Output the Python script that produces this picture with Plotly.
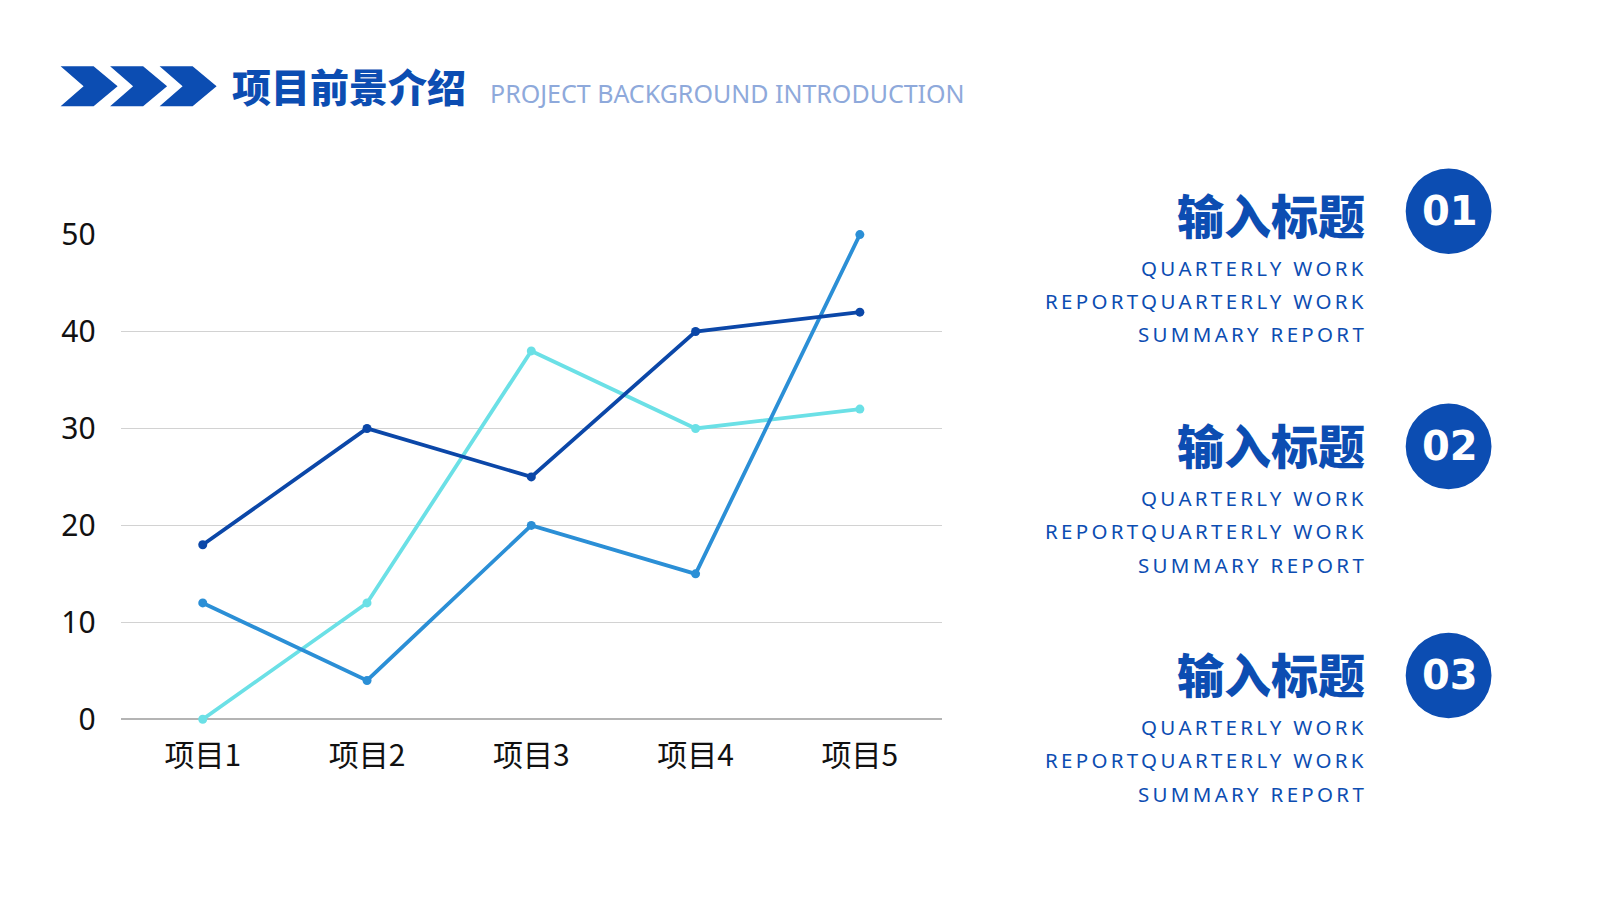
import plotly.graph_objects as go

# data
categories = ["项目1", "项目2", "项目3", "项目4", "项目5"]
series_dark = [18, 30, 25, 40, 42]
series_mid = [12, 4, 20, 15, 50]
series_cyan = [0, 12, 38, 30, 32]
y_ticks = [0, 10, 20, 30, 40, 50]

title_cn = "项目前景介绍"
title_en = "PROJECT BACKGROUND INTRODUCTION"
item_title = "输入标题"
item_numbers = ["01", "02", "03"]
item_lines = ["QUARTERLY WORK", "REPORTQUARTERLY WORK", "SUMMARY REPORT"]

W, H = 1600, 900
BLUE = "#0C4DB2"


def px(x):
    return x / W


def py(y):
    return 1 - y / H


fig = go.Figure()

for vals, color in [(series_cyan, "#6BE0E6"), (series_mid, "#2B8FD6"), (series_dark, "#0B47A8")]:
    fig.add_trace(go.Scatter(
        x=categories, y=vals, mode="lines+markers",
        line=dict(color=color, width=3.8),
        marker=dict(color=color, size=9),
        cliponaxis=False, showlegend=False, hoverinfo="skip",
    ))

fig.update_xaxes(
    domain=[px(112.6), px(934)], range=[-0.5, 4.5],
    showgrid=False, showline=False, zeroline=False,
    tickfont=dict(family="Noto Sans CJK SC", size=30, color="#111111"),
    ticklabelstandoff=16,
)
fig.update_yaxes(
    domain=[py(723.2), py(215.4)], range=[0, 50],
    tickvals=y_ticks, showgrid=True, gridcolor="#D2D2D2", gridwidth=1.2,
    zeroline=True, zerolinecolor="#B4B4B4", zerolinewidth=1.5, showline=False,
    tickfont=dict(family="Noto Sans", size=30, color="#111111"),
    ticklabelstandoff=24,
)

shapes = []
# chevrons next to the title
for dx in [0, 49.5, 99]:
    pts = [(52.6, 39), (85.6, 39), (109.6, 60), (85.6, 81), (52.6, 81), (75.6, 60)]
    path = "M " + " L ".join(f"{px(x + dx)},{py(y)}" for x, y in pts) + " Z"
    shapes.append(dict(type="path", path=path, xref="paper", yref="paper",
                       fillcolor=BLUE, line=dict(width=0)))

annotations = [
    dict(text=title_cn, x=px(222), y=py(59.1), xanchor="left", yanchor="middle",
         font=dict(family="Noto Sans CJK SC", size=39, color=BLUE, weight=900)),
    dict(text=title_en, x=px(480), y=py(67.3), xanchor="left", yanchor="middle",
         font=dict(family="Noto Sans", size=25, color="#8EA9DB")),
]

head_y = [193, 434.1, 674.1]
circle_y = [190.9, 437.3, 677.3]
for num, hy, cy in zip(item_numbers, head_y, circle_y):
    rx, ry = 42.9, 44.8
    cx = 1440.6
    shapes.append(dict(type="circle", xref="paper", yref="paper",
                       x0=px(cx - rx), x1=px(cx + rx), y0=py(cy + ry), y1=py(cy - ry),
                       fillcolor=BLUE, line=dict(width=0)))
    annotations.append(dict(text=f"<b>{num}</b>", x=px(cx + 1), y=py(cy), xanchor="center",
                            yanchor="middle",
                            font=dict(family="DejaVu Sans", size=40, color="white")))
    annotations.append(dict(text=item_title, x=px(1359), y=py(hy), xanchor="right",
                            yanchor="middle",
                            font=dict(family="Noto Sans CJK SC", size=47, color=BLUE, weight=900)))
    for i, line in enumerate(item_lines):
        annotations.append(dict(
            text=f'<span style="letter-spacing:3.3px">{line}</span>',
            x=px(1361), y=py(hy + 57.6 + i * 34.7), xanchor="right", yanchor="middle",
            font=dict(family="Noto Sans", size=20.5, color=BLUE)))

for a in annotations:
    a.update(xref="paper", yref="paper", showarrow=False)

fig.update_layout(
    width=W, height=H, margin=dict(l=0, r=0, t=0, b=0),
    paper_bgcolor="white", plot_bgcolor="white",
    shapes=shapes, annotations=annotations,
)

fig.write_html("out.html")
